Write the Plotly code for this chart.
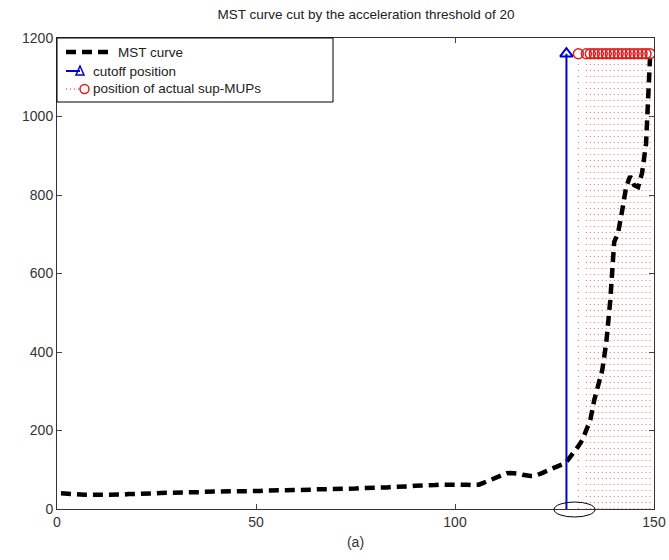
import plotly.graph_objects as go

# ---- data ----
mst_x = list(range(1, 150))
mst_y = [40, 39, 38, 38, 37, 37, 36, 36, 36, 36,
         35, 35, 35, 36, 36, 37, 37, 38, 38, 38,
         39, 39, 40, 40, 40, 41, 41, 41, 42, 42,
         42, 42, 43, 43, 43, 43, 44, 44, 44, 44,
         44, 44, 45, 45, 45, 45, 45, 46, 46, 46,
         46, 47, 47, 47, 47, 48, 48, 48, 48, 48,
         49, 49, 49, 49, 50, 50, 50, 50, 50, 51,
         51, 51, 52, 52, 52, 53, 53, 53, 54, 54,
         54, 55, 55, 56, 56, 57, 57, 58, 58, 59,
         59, 60, 60, 61, 61, 62, 62, 63, 63, 64,
         64, 63, 62, 61, 61, 62, 66, 70, 75, 79,
         84, 88, 91, 92, 92, 90, 87, 85, 84, 84,
         87, 92, 97, 101, 104, 108, 114, 120,
         132, 145, 160, 176, 200, 227, 278, 315, 354, 423,
         530, 680, 705, 760, 820, 848, 825, 820, 856, 930, 1150]

cutoff_x = [128]
cutoff_y = [1160]

sup_x = [131, 133, 134, 135, 136, 137, 138, 139, 140, 141,
         142, 143, 144, 145, 146, 147, 148, 149]
sup_level = 1160

x_ticks = [0, 50, 100, 150]
y_ticks = [0, 200, 400, 600, 800, 1000, 1200]

FONT = "Liberation Sans, Arial, sans-serif"
BLUE = "rgb(0,0,210)"
RED = "rgb(220,30,30)"

L, R, T, B = 57, 15, 38, 51
W, H = 669, 560
PW, PH = W - L - R, H - T - B

fig = go.Figure()

# stems for sup-MUPs (dotted red vertical lines)
sx, sy = [], []
for v in sup_x:
    sx += [v, v, None]
    sy += [0, sup_level, None]
fig.add_trace(go.Scatter(x=sx, y=sy, mode="lines",
                         line=dict(color="rgba(220,60,60,0.75)", width=1, dash="1px,5px"),
                         showlegend=False, hoverinfo="skip"))

# MST curve
fig.add_trace(go.Scatter(x=mst_x, y=mst_y, mode="lines",
                         line=dict(color="black", width=4.5, dash="10px,6px"),
                         showlegend=False))

# cutoff stem
cx, cy = [], []
for v, h in zip(cutoff_x, cutoff_y):
    cx += [v, v, None]
    cy += [0, h, None]
fig.add_trace(go.Scatter(x=cx, y=cy, mode="lines",
                         line=dict(color=BLUE, width=2),
                         showlegend=False, hoverinfo="skip"))
fig.add_trace(go.Scatter(x=cutoff_x, y=cutoff_y, mode="markers",
                         marker=dict(symbol="triangle-up-open", size=11,
                                     color=BLUE, line=dict(width=2, color=BLUE)),
                         showlegend=False))

# sup-MUP circles
fig.add_trace(go.Scatter(x=sup_x, y=[sup_level] * len(sup_x), mode="markers",
                         marker=dict(symbol="circle-open", size=10,
                                     color=RED, line=dict(width=1.5, color=RED)),
                         showlegend=False))


def px(xp):
    return (xp - L) / PW


def py(yp):
    return 1 - (yp - T) / PH


shapes = []
# legend box
shapes.append(dict(type="rect", xref="paper", yref="paper",
                   x0=0, x1=px(333), y0=py(102), y1=1,
                   fillcolor="white", line=dict(color="black", width=1), layer="above"))
layer = "above"
# row 1: dashed black
shapes.append(dict(type="line", xref="paper", yref="paper",
                   x0=px(66), x1=px(114), y0=py(52), y1=py(52),
                   line=dict(color="black", width=4.5, dash="10px,6px"), layer=layer))
# row 2: blue line + triangle
shapes.append(dict(type="line", xref="paper", yref="paper",
                   x0=px(66), x1=px(80), y0=py(71), y1=py(71),
                   line=dict(color=BLUE, width=2), layer=layer))
shapes.append(dict(type="path", xref="paper", yref="paper",
                   path=f"M {px(76)},{py(75)} L {px(84)},{py(75)} L {px(80)},{py(66)} Z",
                   line=dict(color=BLUE, width=1.5), fillcolor="rgba(0,0,0,0)", layer=layer))
# row 3: red dotted + circle
shapes.append(dict(type="line", xref="paper", yref="paper",
                   x0=px(66), x1=px(80), y0=py(89), y1=py(89),
                   line=dict(color=RED, width=1, dash="1px,3px"), layer=layer))
shapes.append(dict(type="circle", xref="paper", yref="paper",
                   x0=px(80), x1=px(89), y0=py(93.5), y1=py(84.5),
                   line=dict(color=RED, width=1.5), layer=layer))

LEG_FONT = dict(family=FONT, size=13.5, color="#222")
annotations = [
    dict(text="MST curve", xref="paper", yref="paper", x=px(116), y=py(52),
         xanchor="left", yanchor="middle", showarrow=False, font=LEG_FONT),
    dict(text="cutoff position", xref="paper", yref="paper", x=px(91), y=py(71),
         xanchor="left", yanchor="middle", showarrow=False, font=LEG_FONT),
    dict(text="position of actual sup-MUPs", xref="paper", yref="paper", x=px(91), y=py(89),
         xanchor="left", yanchor="middle", showarrow=False, font=LEG_FONT),
]

# ellipse annotation around cutoff at the x axis (paper coords so it is not clipped)
shapes.append(dict(type="circle", xref="paper", yref="paper",
                   x0=px(554), x1=px(595), y0=py(517), y1=py(502),
                   line=dict(color="black", width=1), layer="above"))

fig.update_layout(
    width=W, height=H,
    margin=dict(l=L, r=R, t=T, b=B, autoexpand=False),
    paper_bgcolor="white", plot_bgcolor="white",
    title=dict(text="MST curve cut by the acceleration threshold of 20",
               x=(366 / W), xanchor="center", y=1 - 14 / H, yanchor="middle",
               font=dict(family=FONT, size=13.5, color="#222")),
    shapes=shapes, annotations=annotations,
    showlegend=False,
)
fig.update_xaxes(range=[0, 150], tickvals=x_ticks, ticks="inside", ticklen=5,
                 showline=True, linecolor="#333", linewidth=1, mirror="ticks",
                 showgrid=False, zeroline=False, automargin=False,
                 tickfont=dict(family=FONT, size=14, color="#333"),
                 title=dict(text="(a)", font=dict(family=FONT, size=14, color="#333"), standoff=8))
fig.update_yaxes(range=[0, 1200], tickvals=y_ticks, ticks="inside", ticklen=5,
                 showline=True, linecolor="#333", linewidth=1, mirror="ticks",
                 showgrid=False, zeroline=False, automargin=False,
                 tickfont=dict(family=FONT, size=14, color="#333"))

fig.write_html("out.html")
